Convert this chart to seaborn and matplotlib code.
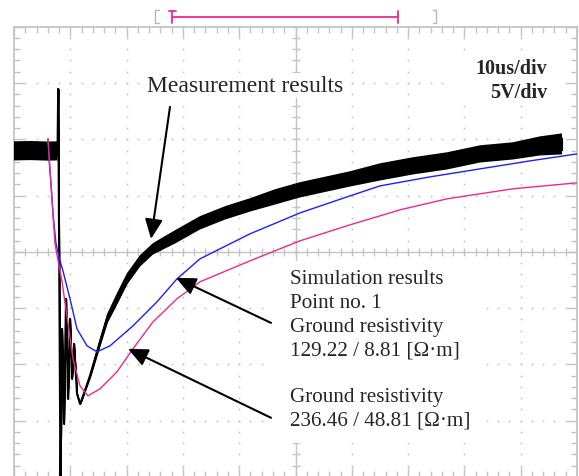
import matplotlib
matplotlib.use("Agg")
import matplotlib.pyplot as plt
from matplotlib.lines import Line2D
from matplotlib.patches import Rectangle
from matplotlib.ticker import MultipleLocator
import numpy as np
import pandas as pd
import seaborn as sns

# Time in microseconds (10 us/div), voltage in volts (5 V/div)
meas_t = [0.0, 3.0, 6.0, 7.73, 7.85, 8.26, 8.53, 8.88, 9.24, 9.59, 9.95, 10.30,
          10.66, 11.19, 11.72, 12.08, 13.50, 15.28, 16.52, 18.29, 20.07, 22.38,
          24.69, 28.60, 33.04, 37.48, 41.92, 46.36, 50.80, 59.68, 65.01, 70.87,
          76.91, 82.77, 88.63, 93.43, 97.34]
meas_v = [8.97, 9.00, 8.95, 8.97, 14.48, -21.05, -6.84, -15.28, -4.17, -13.06,
          -5.95, -11.28, -8.17, -12.61, -13.50, -13.06, -11.01, -7.99, -5.95,
          -4.17, -2.40, -0.80, 0.27, 1.33, 2.58, 3.46, 4.17, 4.88, 5.51, 6.48,
          7.10, 7.64, 8.08, 8.70, 8.97, 9.41, 9.59]
# half-width of the noise band on the measured trace
meas_spread = [0.5, 0.5, 0.5, 0.5, 0.0, 0.0, 0.0, 0.0, 0.0, 0.0, 0.0, 0.0,
               0.0, 0.0, 0.0, 0.0, 0.12, 0.2, 0.25, 0.3, 0.3, 0.3, 0.3, 0.35,
               0.35, 0.35, 0.35, 0.4, 0.4, 0.4, 0.45, 0.45, 0.45, 0.45, 0.45, 0.5, 0.55]

# Simulation, ground resistivity 129.22 / 8.81 ohm*m
sim1_t = [6.04, 6.22, 6.57, 6.93, 7.46, 8.17, 8.70, 9.95, 11.19, 12.97, 14.74,
          17.05, 21.14, 25.40, 28.95, 33.04, 41.92, 50.80, 59.68, 65.01, 73.89,
          82.77, 91.65, 100.0]
sim1_v = [10.04, 8.26, 6.04, 3.37, 0.71, -0.80, -1.69, -4.17, -6.84, -8.35,
          -8.88, -8.35, -6.57, -4.44, -2.40, -0.62, 1.60, 3.46, 4.97, 5.86,
          6.66, 7.37, 8.08, 8.70]

# Simulation, ground resistivity 236.46 / 48.81 ohm*m
sim2_t = [6.04, 6.39, 6.93, 7.28, 8.53, 9.41, 10.48, 11.72, 13.14, 15.28, 18.29,
          21.14, 24.69, 28.95, 33.04, 41.92, 50.80, 59.68, 68.56, 76.91, 88.63,
          100.0]
sim2_v = [10.04, 7.37, 3.37, 0.71, -2.66, -5.68, -9.50, -11.90, -12.79, -12.17,
          -10.66, -8.61, -6.22, -4.17, -2.66, -0.80, 0.98, 2.40, 3.73, 4.71,
          5.60, 6.13]

sim_label_lines = ["Simulation results", "Point no. 1", "Ground resistivity",
                   "129.22 / 8.81 [\u03a9\u00b7m]"]
sim2_label_lines = ["Ground resistivity", "236.46 / 48.81 [\u03a9\u00b7m]"]

BLUE = "#1f1ff5"
PINK = "#f0288c"
GRID = "#c4c4c4"

sns.set_style("white")
plt.rcParams["font.family"] = ["Liberation Serif", "DejaVu Serif"]
plt.rcParams["hatch.linewidth"] = 0.7

W, H = 579, 477
fig = plt.figure(figsize=(W / 100, H / 100), dpi=100)
ax = fig.add_axes([14 / W, (477 - 478) / H, 563 / W, 450.3 / H])
ax.set_facecolor("white")


def fx(px):
    return px / W


def fy(py):
    return 1 - py / H


ax.set_xlim(0, 100)
ax.set_ylim(-20, 20)
ax.xaxis.set_major_locator(MultipleLocator(10))
ax.xaxis.set_minor_locator(MultipleLocator(2))
ax.yaxis.set_major_locator(MultipleLocator(5))
ax.yaxis.set_minor_locator(MultipleLocator(1))
ax.tick_params(which="both", direction="in", top=True, right=True,
               bottom=True, left=True, labelbottom=False, labelleft=False,
               color=GRID, width=1.0)
ax.tick_params(which="major", length=7.5)
ax.tick_params(which="minor", length=4)
for sp in ax.spines.values():
    sp.set_color(GRID)
    sp.set_linewidth(1.3)

# dotted graticule
gx, gy = [], []
for xm in range(10, 100, 10):
    if xm == 50:
        continue
    for ym in range(-20, 21):
        gx.append(xm); gy.append(ym)
for ym in range(-15, 16, 5):
    if ym == 0:
        continue
    for xm in range(0, 101, 2):
        gx.append(xm); gy.append(ym)
ax.plot(gx, gy, ls="none", marker="s", ms=1.1, mec="none", mfc="#bcbcbc", zorder=1)

# centre cross with fine ticks
ax.axhline(0, color=GRID, lw=1.0, zorder=1)
ax.axvline(50, color=GRID, lw=1.0, zorder=1)
ax.plot(list(range(0, 101, 2)), [0] * 51, ls="none", marker="|", ms=6,
        mew=1.0, color=GRID, zorder=1)
ax.plot([50] * 41, list(range(-20, 21)), ls="none", marker="_", ms=6,
        mew=1.0, color=GRID, zorder=1)

# white panels behind the text blocks
for (x0, y0, x1, y1) in [(270, 262, 478, 444), (452, 57, 560, 106)]:
    ax.add_patch(Rectangle((fx(x0), fy(y1)), (x1 - x0) / W, (y1 - y0) / H,
                           transform=fig.transFigure, facecolor="white",
                           edgecolor="none", zorder=2))

# traces
meas = pd.DataFrame({"t": meas_t, "v": meas_v, "s": meas_spread})
# fuzzy outer fringe of the noisy acquisition
fringe = meas["s"] * 1.7
ax.fill_between(meas["t"], meas["v"] - fringe, meas["v"] + fringe,
                facecolor="none", edgecolor="black", hatch="|" * 34, lw=0,
                zorder=4)
ax.fill_between(meas["t"], meas["v"] - meas["s"], meas["v"] + meas["s"],
                color="black", lw=0.8, zorder=4)
sns.lineplot(data=meas, x="t", y="v", ax=ax, color="black", lw=1.5,
             sort=False, estimator=None, zorder=4)
sns.lineplot(x=sim1_t, y=sim1_v, ax=ax, color=BLUE, lw=1.0, sort=False,
             estimator=None, zorder=5)
sns.lineplot(x=sim2_t, y=sim2_v, ax=ax, color=PINK, lw=1.0, sort=False,
             estimator=None, zorder=5)
ax.set_xlabel("")
ax.set_ylabel("")

# annotations
box = dict(facecolor="white", edgecolor="none", pad=1.5)
ax.text(23.6, 14.3, "Measurement results", fontsize=17, ha="left",
        va="baseline", bbox=box, zorder=3)
ax.text(94.7, 15.9, "10us/div", fontsize=14.5, fontweight="bold",
        ha="right", va="baseline", zorder=3)
ax.text(94.7, 13.77, "5V/div", fontsize=14.5, fontweight="bold",
        ha="right", va="baseline", zorder=3)
for line, yb in zip(sim_label_lines, [-2.75, -4.88, -7.02, -9.15]):
    ax.text(49.0, yb, line, fontsize=15.2, ha="left", va="baseline", zorder=3)
for line, yb in zip(sim2_label_lines, [-13.23, -15.36]):
    ax.text(49.0, yb, line, fontsize=15.2, ha="left", va="baseline", zorder=3)

arrow = dict(arrowstyle="-|>,head_length=1.0,head_width=0.45",
             mutation_scale=12, color="black", lw=1.5, shrinkA=0, shrinkB=0)
ax.annotate("", xy=(24.33, 1.15), xytext=(27.71, 12.88), arrowprops=arrow, zorder=6)
ax.annotate("", xy=(28.77, -2.31), xytext=(45.65, -6.31), arrowprops=arrow, zorder=6)
ax.annotate("", xy=(20.25, -8.61), xytext=(45.65, -14.74), arrowprops=arrow, zorder=6)


# record-window indicator above the screen
def seg(x0, y0, x1, y1, color, lw):
    fig.add_artist(Line2D([fx(x0), fx(x1)], [fy(y0), fy(y1)], color=color,
                          lw=lw, transform=fig.transFigure))


seg(155.5, 11, 155.5, 24, "#b8b8b8", 1.0)
seg(155.5, 11, 158.5, 11, "#b8b8b8", 1.0)
seg(155.5, 24, 158.5, 24, "#b8b8b8", 1.0)
seg(436, 11, 436, 24, "#b8b8b8", 1.0)
seg(433, 11, 436, 11, "#b8b8b8", 1.0)
seg(433, 24, 436, 24, "#b8b8b8", 1.0)
seg(168.5, 11.5, 175.5, 11.5, PINK, 1.3)
seg(172, 11.5, 172, 24, PINK, 1.3)
seg(172, 18.3, 398, 18.3, PINK, 1.3)
seg(398, 12, 398, 24, PINK, 1.3)

fig.savefig("out.png", dpi=100, facecolor="white")
